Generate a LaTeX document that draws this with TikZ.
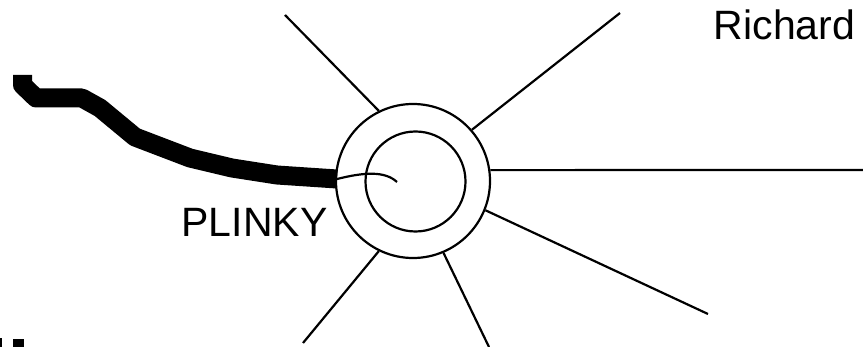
\documentclass[tikz,border=0pt]{standalone}
\usepackage{fontspec}
\setmainfont{Liberation Sans}
\begin{document}
\begin{tikzpicture}[x=1pt,y=-1pt,
  thin line/.style={line width=2.2pt,black},
  ray/.style={thin line},
  label text/.style={inner sep=0pt,font=\fontsize{41}{41}\selectfont}]
\useasboundingbox (0,0) rectangle (863,347);
% circles
\node[circle,draw,thin line,minimum size=154pt,inner sep=0pt] (outer) at (413,181) {};
\node[circle,draw,thin line,minimum size=100pt,inner sep=0pt] (inner) at (415.5,181.5) {};
% ray end points
\coordinate (e1) at (285,15);
\coordinate (e2) at (620,13);
\coordinate (e3) at (863,170);
\coordinate (e4) at (708,314);
\coordinate (e5) at (489,347);
\coordinate (e6) at (303,343);
\draw[ray] (outer.116.6) -- (e1);
\draw[ray] (outer.41.7) -- (e2);
\draw[ray] (outer.8.2) -- (e3);
\draw[ray] (outer.-22.9) -- (e4);
\draw[ray] (outer.-67.9) -- (e5);
\draw[ray] (outer.-116.2) -- (e6);
% thick wire
\coordinate (w0) at (22.5,75);
\coordinate (wend) at (337,179);
\draw[line width=19pt,line join=round,line cap=butt]
  (w0) -- (22.5,85) -- (36,98) -- (82,98) -- (100,108) -- (135,137) -- (190,158)
  -- (232,168) -- (277,175) -- (wend);
% spiral end
\coordinate (s1) at (397,182);
\draw[thin line] (wend) .. controls (365,172) and (385,171) .. (s1);
% labels
\node[label text,anchor=base] (plinky) at (254.5,237) {PLINKY};
\node[label text,anchor=base] (richard) at (784.5,40) {Richard};
% cut-off marks at bottom left
\fill (0,338) rectangle (1.5,347);
\fill (13,339) rectangle (24,347);
\end{tikzpicture}
\end{document}
